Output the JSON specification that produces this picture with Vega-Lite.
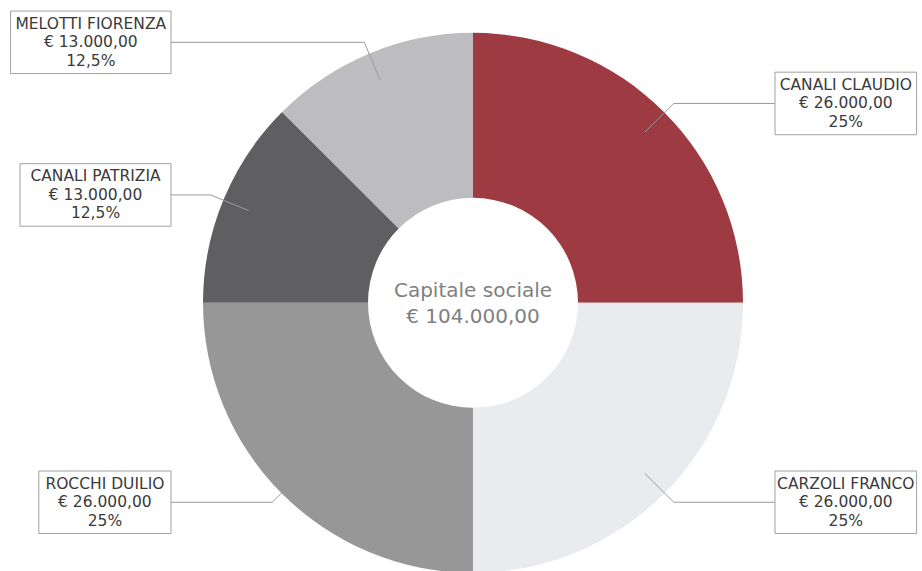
{
  "$schema": "https://vega.github.io/schema/vega-lite/v6.json",
  "width": 922,
  "height": 571,
  "autosize": {"type": "fit", "contains": "padding"},
  "padding": 0,
  "background": "white",
  "config": {"view": {"stroke": null}},
  "data": {
    "values": [
      {"name": "CANALI CLAUDIO", "value": 26000},
      {"name": "CARZOLI FRANCO", "value": 26000},
      {"name": "ROCCHI DUILIO", "value": 26000},
      {"name": "CANALI PATRIZIA", "value": 13000},
      {"name": "MELOTTI FIORENZA", "value": 13000}
    ]
  },
  "transform": [
    {"joinaggregate": [{"op": "sum", "field": "value", "as": "total"}]},
    {"window": [{"op": "sum", "field": "value", "as": "v1"}], "frame": [null, 0]},
    {"calculate": "datum.v1 - datum.value", "as": "v0"},
    {"calculate": "(datum.v0 + datum.v1) / datum.total * PI", "as": "a"},
    {"calculate": "sin(datum.a) >= 0 ? 1 : -1", "as": "side"},
    {"calculate": "243 * sin(datum.a)", "as": "px"},
    {"calculate": "243 * cos(datum.a)", "as": "py"},
    {"calculate": "284 * sin(datum.a)", "as": "ex"},
    {"calculate": "284 * cos(datum.a)", "as": "ey"},
    {"calculate": "datum.side * 302", "as": "bx"},
    {"calculate": "length(datum.name) * 9.4 + 10", "as": "w"},
    {"calculate": "datum.bx + datum.side * datum.w", "as": "bx2"},
    {"calculate": "datum.bx + datum.side * datum.w / 2", "as": "cx"},
    {"calculate": "datum.ey + 31.5", "as": "by1"},
    {"calculate": "datum.ey - 31.5", "as": "by2"},
    {"calculate": "[datum.name, '€ ' + replace(replace(replace(format(datum.value, ',.2f'), ',', '_'), '.', ','), '_', '.'), replace(format(datum.value / datum.total, '.1~%'), '.', ',')]", "as": "label"}
  ],
  "layer": [
    {
      "mark": {"type": "arc", "outerRadius": 270, "innerRadius": 105, "strokeWidth": 0},
      "encoding": {
        "theta": {"field": "v1", "type": "quantitative", "stack": null, "scale": {"nice": false, "zero": true}},
        "theta2": {"field": "v0"},
        "x": {"datum": 0, "type": "quantitative", "scale": {"domain": [-473, 449], "nice": false, "zero": false}, "axis": null},
        "y": {"datum": 0, "type": "quantitative", "scale": {"domain": [-266, 305], "nice": false, "zero": false}, "axis": null},
        "color": {
          "field": "name",
          "type": "nominal",
          "scale": {
            "domain": ["CANALI CLAUDIO", "CARZOLI FRANCO", "ROCCHI DUILIO", "CANALI PATRIZIA", "MELOTTI FIORENZA"],
            "range": ["#9e3a41", "#e9ebef", "#979797", "#5f5f61", "#bdbdbf"]
          },
          "legend": null
        }
      }
    },
    {
      "mark": {"type": "rule", "color": "#9a9a9a", "strokeWidth": 1},
      "encoding": {
        "x": {"field": "px", "type": "quantitative", "scale": {"domain": [-473, 449], "nice": false, "zero": false}, "axis": null},
        "y": {"field": "py", "type": "quantitative", "scale": {"domain": [-266, 305], "nice": false, "zero": false}, "axis": null},
        "x2": {"field": "ex"},
        "y2": {"field": "ey"}
      }
    },
    {
      "mark": {"type": "rule", "color": "#9a9a9a", "strokeWidth": 1},
      "encoding": {
        "x": {"field": "ex", "type": "quantitative", "scale": {"domain": [-473, 449], "nice": false, "zero": false}, "axis": null},
        "y": {"field": "ey", "type": "quantitative", "scale": {"domain": [-266, 305], "nice": false, "zero": false}, "axis": null},
        "x2": {"field": "bx"}
      }
    },
    {
      "mark": {"type": "rect", "fill": "white", "stroke": "#a0a0a0", "strokeWidth": 1},
      "encoding": {
        "x": {"field": "bx", "type": "quantitative", "scale": {"domain": [-473, 449], "nice": false, "zero": false}, "axis": null},
        "x2": {"field": "bx2"},
        "y": {"field": "by1", "type": "quantitative", "scale": {"domain": [-266, 305], "nice": false, "zero": false}, "axis": null},
        "y2": {"field": "by2"}
      }
    },
    {
      "mark": {"type": "text", "align": "center", "baseline": "middle", "dy": -18.5, "font": "DejaVu Sans", "fontSize": 15.5, "lineHeight": 18.5, "color": "#3a3a3a"},
      "encoding": {
        "x": {"field": "cx", "type": "quantitative", "scale": {"domain": [-473, 449], "nice": false, "zero": false}, "axis": null},
        "y": {"field": "ey", "type": "quantitative", "scale": {"domain": [-266, 305], "nice": false, "zero": false}, "axis": null},
        "text": {"field": "label"}
      }
    },
    {
      "transform": [
        {"aggregate": [{"op": "sum", "field": "value", "as": "tot"}]},
        {"calculate": "['Capitale sociale', '€ ' + replace(replace(replace(format(datum.tot, ',.2f'), ',', '_'), '.', ','), '_', '.')]", "as": "ctext"}
      ],
      "mark": {"type": "text", "align": "center", "baseline": "middle", "dy": -12, "font": "DejaVu Sans", "fontSize": 20, "letterSpacing": 0.8, "lineHeight": 26, "color": "#808080"},
      "encoding": {
        "x": {"datum": 0, "type": "quantitative", "scale": {"domain": [-473, 449], "nice": false, "zero": false}, "axis": null},
        "y": {"datum": 0, "type": "quantitative", "scale": {"domain": [-266, 305], "nice": false, "zero": false}, "axis": null},
        "text": {"field": "ctext"}
      }
    }
  ]
}
